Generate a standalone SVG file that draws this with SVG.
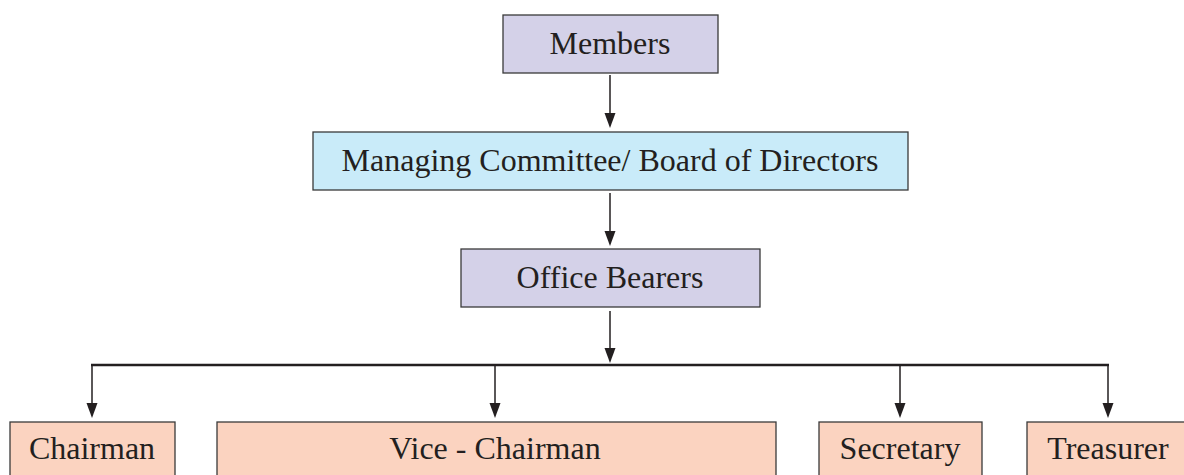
<svg xmlns="http://www.w3.org/2000/svg" width="1184" height="475" viewBox="0 0 1184 475">
<defs>
<style>
.box{stroke:#3a3a3a;stroke-width:1.3}
.purple{fill:#d4d1e8}
.blue{fill:#c9ebf9}
.peach{fill:#fbd3c0}
.t{font-family:"Liberation Serif","Times New Roman",serif;font-size:32px;fill:#231f20;text-anchor:middle}
.c{stroke:#231f20;stroke-width:1.5;fill:none}
.h{fill:#231f20}
</style>
</defs>
<rect width="1184" height="475" fill="#ffffff"/>
<g id="connectors">
<line class="c" x1="610" y1="75" x2="610" y2="113"/>
<path class="h" d="M604.5,113 L615.5,113 L610,128 Z"/>
<line class="c" x1="610" y1="193" x2="610" y2="231"/>
<path class="h" d="M604.5,231 L615.5,231 L610,246 Z"/>
<line class="c" x1="610" y1="311" x2="610" y2="348"/>
<path class="h" d="M604.5,348 L615.5,348 L610,363 Z"/>
<line x1="91" y1="365" x2="1109" y2="365" stroke="#231f20" stroke-width="2.5"/>
<line class="c" x1="92" y1="365" x2="92" y2="403"/>
<path class="h" d="M86.5,403 L97.5,403 L92,418 Z"/>
<line class="c" x1="495" y1="365" x2="495" y2="403"/>
<path class="h" d="M489.5,403 L500.5,403 L495,418 Z"/>
<line class="c" x1="900" y1="365" x2="900" y2="403"/>
<path class="h" d="M894.5,403 L905.5,403 L900,418 Z"/>
<line class="c" x1="1108" y1="365" x2="1108" y2="403"/>
<path class="h" d="M1102.5,403 L1113.5,403 L1108,418 Z"/>
</g>
<g id="members">
<rect class="box purple" x="503" y="15" width="215" height="58"/>
<text class="t" x="610" y="54">Members</text>
</g>
<g id="committee">
<rect class="box blue" x="313" y="132" width="595" height="58"/>
<text class="t" x="610" y="171">Managing Committee/ Board of Directors</text>
</g>
<g id="office-bearers">
<rect class="box purple" x="461" y="249" width="299" height="58"/>
<text class="t" x="610" y="288">Office Bearers</text>
</g>
<g id="chairman">
<rect class="box peach" x="10" y="422" width="165" height="60"/>
<text class="t" x="92" y="459">Chairman</text>
</g>
<g id="vice-chairman">
<rect class="box peach" x="217" y="422" width="559" height="60"/>
<text class="t" x="495" y="459">Vice - Chairman</text>
</g>
<g id="secretary">
<rect class="box peach" x="819" y="422" width="163" height="60"/>
<text class="t" x="900" y="459">Secretary</text>
</g>
<g id="treasurer">
<rect class="box peach" x="1027" y="422" width="165" height="60"/>
<text class="t" x="1108" y="459">Treasurer</text>
</g>
</svg>
